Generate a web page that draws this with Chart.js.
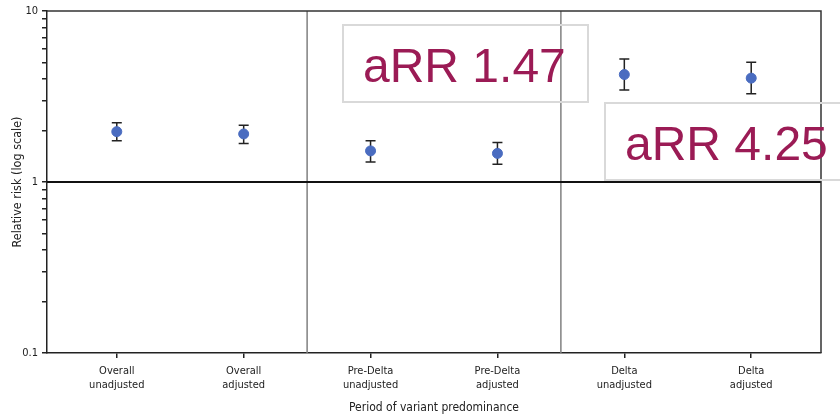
<!DOCTYPE html>
<html>
<head>
<meta charset="utf-8">
<script src="https://cdn.jsdelivr.net/npm/chart.js@4.4.1/dist/chart.umd.min.js"></script>
<style>
  body { margin: 0; background: #fff; }
  #wrap { width: 840px; height: 418px; }
</style>
</head>
<body>
<div id="wrap"><canvas id="rr-chart"></canvas></div>
<script>
// data
const categories = [
    ["Overall", "unadjusted"],
    ["Overall", "adjusted"],
    ["Pre-Delta", "unadjusted"],
    ["Pre-Delta", "adjusted"],
    ["Delta", "unadjusted"],
    ["Delta", "adjusted"]
];
const rrValues = [1.97, 1.91, 1.52, 1.47, 4.25, 4.05];
const rrLower  = [1.74, 1.68, 1.31, 1.27, 3.45, 3.28];
const rrUpper  = [2.22, 2.15, 1.74, 1.70, 5.24, 5.01];
const yTickValues = [0.1, 0.2, 0.3, 0.4, 0.5, 0.6, 0.7, 0.8, 0.9, 1, 2, 3, 4, 5, 6, 7, 8, 9, 10];
const yTickLabels = [0.1, 1, 10];
const groupBreaks = [1.5, 3.5];
const notes = ["aRR 1.47", "aRR 4.25"];

const ctx = document.getElementById('rr-chart');

// error bars, reference lines, frame and text boxes
const extras = {
    id: 'extras',
    beforeDatasetsDraw(chart) {
        const c = chart.ctx;
        const xs = chart.scales.x, ys = chart.scales.y;
        const a = chart.chartArea;
        c.save();
        // group separators
        c.strokeStyle = '#808080';
        c.lineWidth = 1.5;
        groupBreaks.forEach(function(b) {
            const px = xs.getPixelForValue(b);
            c.beginPath();
            c.moveTo(px, a.top);
            c.lineTo(px, a.bottom);
            c.stroke();
        });
        // RR = 1 line
        c.strokeStyle = '#111';
        c.lineWidth = 2;
        const y1 = ys.getPixelForValue(1);
        c.beginPath();
        c.moveTo(a.left, y1);
        c.lineTo(a.right, y1);
        c.stroke();
        // top + right frame
        c.strokeStyle = '#333';
        c.lineWidth = 1.5;
        c.beginPath();
        c.moveTo(a.left, a.top);
        c.lineTo(a.right, a.top);
        c.lineTo(a.right, a.bottom);
        c.stroke();
        // error bars
        c.strokeStyle = '#222';
        c.lineWidth = 1.5;
        for (let i = 0; i < rrValues.length; i++) {
            const px = xs.getPixelForValue(i);
            const lo = ys.getPixelForValue(rrLower[i]);
            const hi = ys.getPixelForValue(rrUpper[i]);
            c.beginPath();
            c.moveTo(px, lo); c.lineTo(px, hi);
            c.moveTo(px - 5, lo); c.lineTo(px + 5, lo);
            c.moveTo(px - 5, hi); c.lineTo(px + 5, hi);
            c.stroke();
        }
        c.restore();
    },
    afterDraw(chart) {
        const c = chart.ctx;
        c.save();
        const boxes = [
            {x: 343, y: 25, w: 245, h: 77},
            {x: 605, y: 103, w: 240, h: 77}
        ];
        c.font = '48px "Liberation Sans", Arial, sans-serif';
        c.textBaseline = 'alphabetic';
        boxes.forEach(function(b, i) {
            c.strokeStyle = '#d9d9d9';
            c.lineWidth = 2;
            c.strokeRect(b.x, b.y, b.w, b.h);
            c.fillStyle = '#9b1b55';
            c.fillText(notes[i], b.x + 20, b.y + 57);
        });
        c.restore();
    }
};

const chart = new Chart(ctx, {
    type: 'scatter',
    data: {
        datasets: [{
            label: 'Relative risk',
            data: rrValues.map(function(v, i) { return {x: i, y: v}; }),
            backgroundColor: '#4a6cc0',
            borderColor: '#4a6cc0',
            pointRadius: 5,
            pointHoverRadius: 5
        }]
    },
    options: {
        responsive: true,
        maintainAspectRatio: false,
        animation: false,
        layout: { padding: { top: 11, right: 19, left: 10, bottom: 0 } },
        plugins: {
            legend: { display: false },
            tooltip: { enabled: false }
        },
        scales: {
            x: {
                type: 'linear',
                min: -0.55,
                max: 5.55,
                afterBuildTicks: function(scale) {
                    scale.ticks = categories.map(function(c, i) { return {value: i}; });
                },
                afterFit: function(scale) { scale.height = 65; },
                ticks: {
                    autoSkip: false,
                    maxRotation: 0,
                    color: '#222',
                    font: { family: '"DejaVu Sans Condensed", "Liberation Sans Narrow", sans-serif', size: 11, lineHeight: 1.3 },
                    padding: 6,
                    callback: function(v) { return categories[v]; }
                },
                grid: {
                    drawOnChartArea: false,
                    tickLength: 5,
                    color: '#222',
                    lineWidth: 1.5
                },
                border: { color: '#222', width: 1.5 },
                title: {
                    display: true,
                    text: 'Period of variant predominance',
                    color: '#222',
                    font: { family: '"DejaVu Sans Condensed", sans-serif', size: 12 },
                    padding: { top: 4, bottom: 3 }
                }
            },
            y: {
                type: 'logarithmic',
                min: 0.1,
                max: 10,
                afterBuildTicks: function(scale) {
                    scale.ticks = yTickValues.map(function(v) { return {value: v}; });
                },
                afterFit: function(scale) { scale.width = 37; },
                ticks: {
                    autoSkip: false,
                    color: '#222',
                    font: { family: '"DejaVu Sans Condensed", sans-serif', size: 11 },
                    padding: 4,
                    callback: function(v) {
                        return yTickLabels.indexOf(v) >= 0 ? String(v) : '';
                    }
                },
                grid: {
                    drawOnChartArea: false,
                    tickLength: 5,
                    color: '#222',
                    lineWidth: 1.5
                },
                border: { color: '#222', width: 1.5 },
                title: {
                    display: true,
                    text: 'Relative risk (log scale)',
                    color: '#222',
                    font: { family: '"DejaVu Sans Condensed", sans-serif', size: 12.5 },
                    padding: { top: 0, bottom: 0 }
                }
            }
        }
    },
    plugins: [extras]
});
</script>
</body>
</html>
